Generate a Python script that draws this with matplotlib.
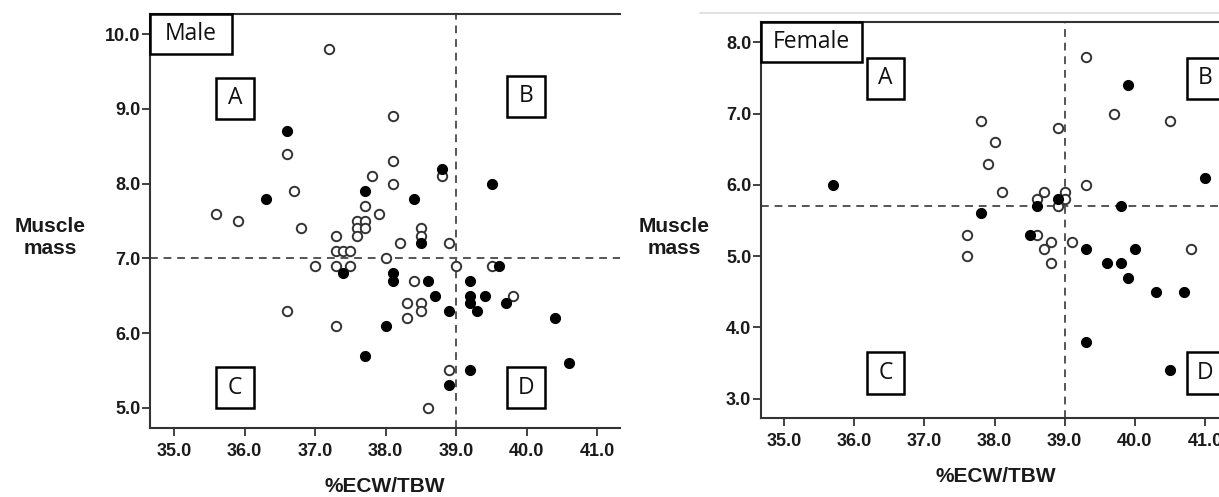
import matplotlib.pyplot as plt
from matplotlib.patches import Rectangle
from matplotlib.lines import Line2D

# Male data (%ECW/TBW, muscle mass)
male_open_x = [37.2, 38.1, 36.6, 38.1, 37.8, 38.8, 38.1, 36.7, 37.7, 35.6, 37.9, 35.9, 37.6, 37.7,
               36.8, 37.6, 37.7, 38.5, 37.3, 37.6, 38.5, 38.2, 38.9, 37.3, 37.4, 37.5, 38.0, 37.0,
               37.3, 37.5, 39.0, 39.5, 38.4, 39.8, 38.3, 38.5, 36.6, 38.5, 38.3, 37.3, 38.9, 38.6]
male_open_y = [9.8, 8.9, 8.4, 8.3, 8.1, 8.1, 8.0, 7.9, 7.7, 7.6, 7.6, 7.5, 7.5, 7.5,
               7.4, 7.4, 7.4, 7.4, 7.3, 7.3, 7.3, 7.2, 7.2, 7.1, 7.1, 7.1, 7.0, 6.9,
               6.9, 6.9, 6.9, 6.9, 6.7, 6.5, 6.4, 6.4, 6.3, 6.3, 6.2, 6.1, 5.5, 5.0]
male_fill_x = [36.6, 38.8, 39.5, 37.7, 36.3, 38.4, 38.5, 39.6, 37.4, 38.1, 38.1, 38.6, 39.2,
               38.7, 39.2, 39.4, 39.2, 39.7, 38.9, 39.3, 40.4, 38.0, 37.7, 40.6, 39.2, 38.9]
male_fill_y = [8.7, 8.2, 8.0, 7.9, 7.8, 7.8, 7.2, 6.9, 6.8, 6.8, 6.7, 6.7, 6.7,
               6.5, 6.5, 6.5, 6.4, 6.4, 6.3, 6.3, 6.2, 6.1, 5.7, 5.6, 5.5, 5.3]

# Female data
fem_open_x = [39.3, 39.7, 40.5, 37.8, 38.9, 38.0, 37.9, 39.3, 38.1, 38.7, 39.0, 38.6, 39.0,
              38.9, 37.6, 38.6, 38.8, 39.1, 38.7, 40.8, 37.6, 38.8]
fem_open_y = [7.8, 7.0, 6.9, 6.9, 6.8, 6.6, 6.3, 6.0, 5.9, 5.9, 5.9, 5.8, 5.8,
              5.7, 5.3, 5.3, 5.2, 5.2, 5.1, 5.1, 5.0, 4.9]
fem_fill_x = [39.9, 41.0, 35.7, 38.9, 38.6, 39.8, 37.8, 38.5, 39.3, 40.0, 39.6, 39.8, 39.9,
              40.3, 40.7, 39.3, 40.5]
fem_fill_y = [7.4, 6.1, 6.0, 5.8, 5.7, 5.7, 5.6, 5.3, 5.1, 5.1, 4.9, 4.9, 4.7,
              4.5, 4.5, 3.8, 3.4]

x_ticks = [35, 36, 37, 38, 39, 40, 41]
male_y_ticks = [5, 6, 7, 8, 9, 10]
fem_y_ticks = [3, 4, 5, 6, 7, 8]

W, H = 1219, 497
edge = '#333333'
bold_font = 'Liberation Sans'
box_font = 'Open Sans'

fig = plt.figure(figsize=(W / 100, H / 100), dpi=100)
ax1 = fig.add_axes([150/W, 1-428/H, 470/W, 414/H])
ax2 = fig.add_axes([761/W, 1-418/H, 470/W, 396.3/H])


def style(ax, xlim, ylim, yt, cut_x, cut_y, lab_x, lab_y):
    ax.set_xlim(*xlim)
    ax.set_ylim(*ylim)
    ax.set_xticks(x_ticks)
    ax.set_yticks(yt)
    ax.set_xticklabels(['%.1f' % v for v in x_ticks], fontfamily=bold_font,
                       fontweight='bold', fontsize=13, color='#1a1a1a')
    ax.set_yticklabels(['%.1f' % v for v in yt], fontfamily=bold_font,
                       fontweight='bold', fontsize=13, color='#1a1a1a')
    ax.tick_params(direction='out', length=6, width=1.3, color=edge)
    ax.tick_params(axis='x', pad=5)
    ax.tick_params(axis='y', pad=1)
    for s in ax.spines.values():
        s.set_color(edge)
        s.set_linewidth(1.5)
    ax.spines['right'].set_visible(False)
    ax.axvline(cut_x, color='#555555', lw=1.4, ls=(0, (4, 3)), zorder=1)
    ax.axhline(cut_y, color='#555555', lw=1.4, ls=(0, (4, 3)), zorder=1)
    ax.set_xlabel('%ECW/TBW', fontfamily=bold_font, fontweight='bold',
                  fontsize=15, color='#1a1a1a', labelpad=12)
    ax.set_ylabel('Muscle\nmass', fontfamily=bold_font, fontweight='bold',
                  fontsize=15, color='#1a1a1a', rotation=0, ha='center', va='center',
                  linespacing=1.2)
    ax.yaxis.set_label_coords(lab_x, lab_y)


def label_box(x0, y0, w, h, s, size=16.5):
    # box given in figure pixels, measured from the top-left corner
    fig.add_artist(Rectangle((x0 / W, 1 - (y0 + h) / H), w / W, h / H,
                             transform=fig.transFigure, facecolor='white',
                             edgecolor='black', lw=1.8, zorder=5))
    fig.text((x0 + w / 2) / W, 1 - (y0 + h / 2) / H, s, ha='center', va='center',
             fontfamily=box_font, fontsize=size, color='#111111', zorder=6)


def points(ax, ox, oy, fx, fy):
    ax.scatter(ox, oy, s=46, facecolors='white', edgecolors=edge, linewidths=1.4, zorder=3)
    ax.scatter(fx, fy, s=52, facecolors='black', edgecolors='black', linewidths=0.8, zorder=4)


# Male panel
style(ax1, (34.66, 41.32), (4.73, 10.27), male_y_ticks, 39.0, 7.0, -0.213, 0.461)
points(ax1, male_open_x, male_open_y, male_fill_x, male_fill_y)
label_box(150, 14, 82, 40, 'Male')
label_box(216, 78, 38, 41, 'A')
label_box(507, 76, 38, 41, 'B')
label_box(216, 367, 38, 41, 'C')
label_box(507, 367, 38, 41, 'D')

# Female panel
style(ax2, (34.67, 41.37), (2.73, 8.29), fem_y_ticks, 39.0, 5.7, -0.185, 0.456)
points(ax2, fem_open_x, fem_open_y, fem_fill_x, fem_fill_y)
label_box(761, 22, 101, 40, 'Female')
label_box(867, 58, 37, 41, 'A')
label_box(1187, 58, 37, 41, 'B')
label_box(867, 352, 37, 42, 'C')
label_box(1187, 352, 37, 42, 'D')

# faint rule above the female panel
fig.add_artist(Line2D([700 / W, 1], [1 - 13 / H, 1 - 13 / H], transform=fig.transFigure,
                      color='#dcdcdc', lw=1.2))

fig.savefig('out.png', dpi=100)
